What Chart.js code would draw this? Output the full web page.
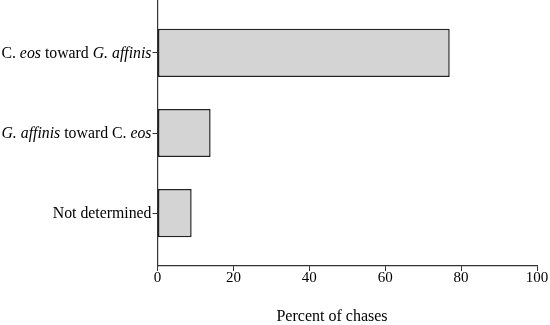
<!DOCTYPE html>
<html>
<head>
<meta charset="utf-8">
<script src="https://cdn.jsdelivr.net/npm/chart.js@4/dist/chart.umd.min.js"></script>
<style>
  html, body { margin: 0; padding: 0; background: #fff; }
  #wrap { width: 550px; height: 325px; }
</style>
</head>
<body>
<div id="wrap"><canvas id="chase-chart"></canvas></div>
<script>
'use strict'

// **** DATA ****
let categories = ['C. eos toward G. affinis', 'G. affinis toward C. eos', 'Not determined'];
// label pieces, [text, italic]
let labelParts = [
  [['C. ', false], ['eos', true], [' toward ', false], ['G. affinis', true]],
  [['G. affinis', true], [' toward ', false], ['C. ', false], ['eos', true]],
  [['Not determined', false]]
];
let percentValues = [77, 14, 9];
let xTicks = [0, 20, 40, 60, 80, 100];
let axisTitle = 'Percent of chases';

let serif = "'Liberation Serif', 'Times New Roman', serif";

// **** PLUGINS ****
let richLabels = {
  id: 'richLabels',
  afterDraw(chart) {
    let ctx = chart.ctx;
    let yScale = chart.scales.y;
    ctx.save();
    ctx.fillStyle = '#000';
    ctx.textBaseline = 'middle';
    for (let i = 0; i < labelParts.length; i++) {
      let parts = labelParts[i];
      let total = 0;
      for (let p of parts) {
        ctx.font = (p[1] ? 'italic ' : '') + '15.8px ' + serif;
        total += ctx.measureText(p[0]).width;
      }
      let x = yScale.right - 6 - total;
      let y = yScale.getPixelForValue(i) + 1;
      for (let p of parts) {
        ctx.font = (p[1] ? 'italic ' : '') + '15.8px ' + serif;
        ctx.textAlign = 'left';
        ctx.fillText(p[0], x, y);
        x += ctx.measureText(p[0]).width;
      }
    }
    // x axis title
    ctx.font = '16px ' + serif;
    ctx.textAlign = 'center';
    ctx.fillText(axisTitle, 332, 317);
    ctx.restore();
  }
};

// **** CHART ****
let ctx = document.getElementById('chase-chart');
new Chart(ctx, {
  type: 'bar',
  data: {
    datasets: [{
      data: percentValues.map((v, i) => ({ x: v, y: i })),
      backgroundColor: '#d4d4d4',
      borderColor: '#222',
      borderWidth: 1.5,
      borderSkipped: false,
      barPercentage: 0.75,
      categoryPercentage: 0.8
    }]
  },
  options: {
    indexAxis: 'y',
    responsive: true,
    maintainAspectRatio: false,
    animation: false,
    layout: { padding: { top: 0, right: 13, left: 0, bottom: 0 } },
    plugins: {
      legend: { display: false },
      tooltip: { enabled: false }
    },
    scales: {
      x: {
        type: 'linear',
        position: 'bottom',
        min: 0,
        max: 100,
        bounds: 'data',
        afterBuildTicks: (scale) => { scale.ticks = xTicks.map(v => ({ value: v })); },
        afterFit: (scale) => { scale.height = 59; },
        ticks: {
          color: '#000',
          font: { family: serif, size: 15 },
          padding: -2,
          maxRotation: 0
        },
        grid: { drawOnChartArea: false, tickLength: 5, color: '#333' },
        border: { color: '#333', width: 1.2 }
      },
      y: {
        type: 'linear',
        reverse: true,
        min: -0.66,
        max: 2.66,
        bounds: 'data',
        offset: false,
        afterBuildTicks: (scale) => { scale.ticks = categories.map((c, i) => ({ value: i })); },
        afterFit: (scale) => { scale.width = 157.5; },
        ticks: { display: false },
        grid: { drawOnChartArea: false, offset: false, tickLength: 5, color: '#333' },
        border: { color: '#333', width: 1.2 }
      }
    }
  },
  plugins: [richLabels]
});
</script>
</body>
</html>
